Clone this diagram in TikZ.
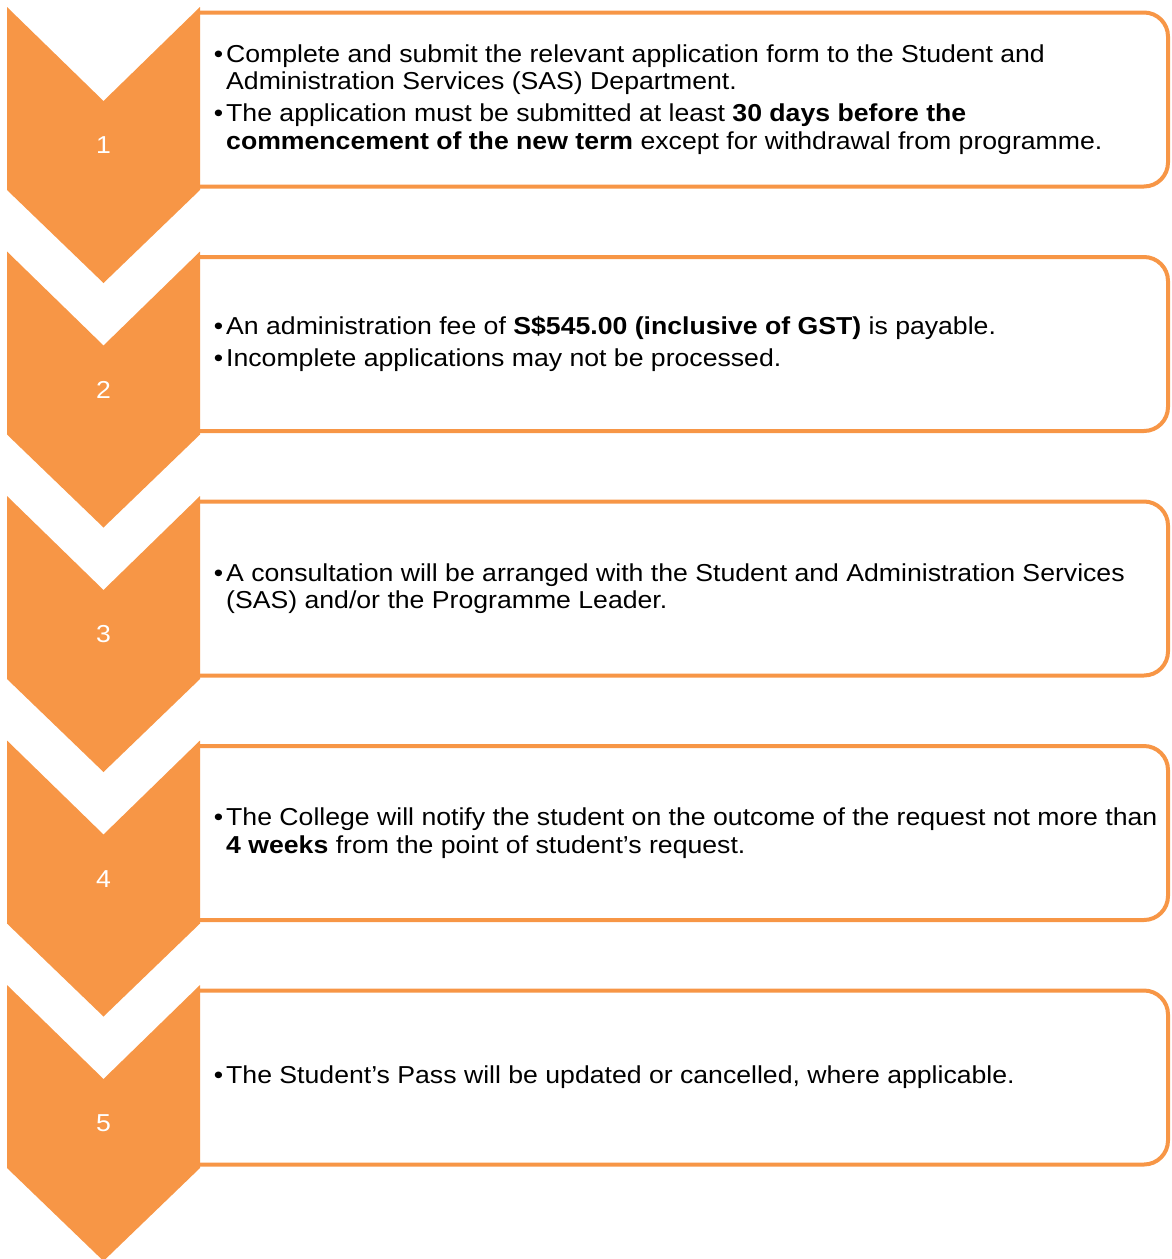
\documentclass[tikz,border=0pt]{standalone}
\usepackage{fontspec}
\setmainfont[FakeStretch=1.087]{Liberation Sans}
\definecolor{accent}{HTML}{F79646}
\tikzset{
  chev/.style={fill=accent, draw=none},
  stepbox/.style={fill=white, draw=accent, line width=4pt, rounded corners=24pt},
  stepnum/.style={text=white, font=\fontsize{24.5}{27.5}\selectfont},
  steptext/.style={anchor=west, align=left, inner sep=0pt, font=\fontsize{24.5}{27.5}\selectfont}
}
\newcommand{\bul}{\llap{\textbullet\hspace{3pt}}}
\begin{document}
\begin{tikzpicture}[x=1pt,y=-1pt]
\useasboundingbox (0,0) rectangle (1171,1259);
% boxes
\path[stepbox] (200,12.5) -- (1168,12.5) -- (1168,186.5) -- (200,186.5);
\path[stepbox] (200,257) -- (1168,257) -- (1168,431) -- (200,431);
\path[stepbox] (200,501.5) -- (1168,501.5) -- (1168,675.5) -- (200,675.5);
\path[stepbox] (200,746) -- (1168,746) -- (1168,920) -- (200,920);
\path[stepbox] (200,990.5) -- (1168,990.5) -- (1168,1164.5) -- (200,1164.5);
% chevrons
\fill[chev] (7,7) -- (103.5,101) -- (200,7) -- (200,190) -- (103.5,283) -- (7,190) -- cycle;
\fill[chev] (7,251.5) -- (103.5,345.5) -- (200,251.5) -- (200,434.5) -- (103.5,527.5) -- (7,434.5) -- cycle;
\fill[chev] (7,496) -- (103.5,590) -- (200,496) -- (200,679) -- (103.5,772) -- (7,679) -- cycle;
\fill[chev] (7,740.5) -- (103.5,834.5) -- (200,740.5) -- (200,923.5) -- (103.5,1016.5) -- (7,923.5) -- cycle;
\fill[chev] (7,985) -- (103.5,1079) -- (200,985) -- (200,1168) -- (103.5,1261) -- (7,1168) -- cycle;
% numbers
\node[stepnum] (n1) at (103.5,145.5) {1};
\node[stepnum] (n2) at (103.5,390) {2};
\node[stepnum] (n3) at (103.5,634.5) {3};
\node[stepnum] (n4) at (103.5,879) {4};
\node[stepnum] (n5) at (103.5,1123.5) {5};
% texts
\node[steptext] (t1) at (226,99.5) {\bul Complete and submit the relevant application form to the Student and\\
Administration Services (SAS) Department.\\[4.5pt]
\bul The application must be submitted at least \textbf{30 days before the}\\
\textbf{commencement of the new term} except for withdrawal from programme.};
\node[steptext] (t2) at (226,344) {\bul An administration fee of \textbf{S\$545.00 (inclusive of GST)} is payable.\\[4.5pt]
\bul Incomplete applications may not be processed.};
\node[steptext] (t3) at (226,588.5) {\bul A consultation will be arranged with the Student and Administration Services\\
(SAS) and/or the Programme Leader.};
\node[steptext] (t4) at (226,833) {\bul The College will notify the student on the outcome of the request not more than\\
\textbf{4 weeks} from the point of student’s request.};
\node[steptext] (t5) at (226,1077.5) {\bul The Student’s Pass will be updated or cancelled, where applicable.};
\end{tikzpicture}
\end{document}
